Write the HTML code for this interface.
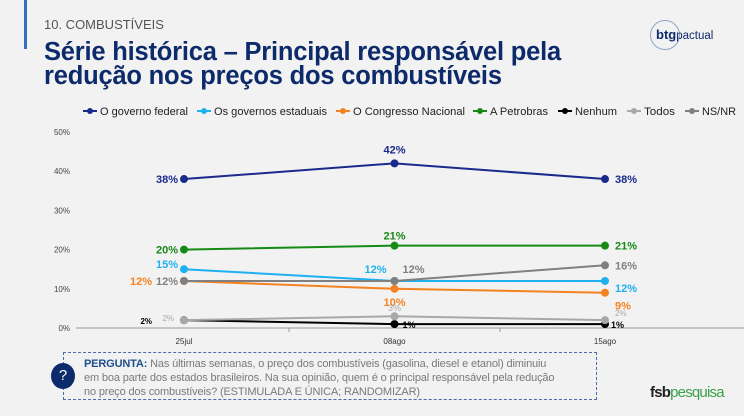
<!DOCTYPE html>
<html><head><meta charset="utf-8"><style>
body{margin:0;width:744px;height:416px;background:#f2f2f2;font-family:"Liberation Sans",sans-serif;overflow:hidden;position:relative}
.abs{position:absolute}
</style></head><body>
<div class="abs" style="left:24px;top:0;width:3px;height:49px;background:#3a6cc0"></div>
<div class="abs" style="left:44px;top:17px;font-size:13px;color:#555">10. COMBUSTÍVEIS</div>
<div class="abs" style="left:44px;top:40px;font-size:25.5px;font-weight:bold;color:#0d2a6b;line-height:24px;letter-spacing:-0.2px">Série histórica – Principal responsável pela<br>redução nos preços dos combustíveis</div>
<div class="abs" style="left:650px;top:20px;width:28px;height:28px;border:1px solid #8fa3c8;border-radius:50%"></div>
<div class="abs" style="left:656px;top:27px;font-size:13px;color:#0d2a6b"><b>btg</b><span style="font-size:11.5px">pactual</span></div>
<svg class="abs" style="left:0;top:0" width="744" height="416">
<g id="legend"></g><g id="axes"></g><g id="series"></g>
</svg>
<div class="abs" style="left:63px;top:352px;width:532px;height:46px;border:1px dashed #4a6aa8"></div>
<div class="abs" style="left:51px;top:363px;width:24px;height:26px;border-radius:50%;background:#0d2a6b;color:#fff;font-size:15px;text-align:center;line-height:26px">?</div>
<div class="abs" style="left:84px;top:357px;width:520px;font-size:11px;line-height:14px;color:#7a7a7a;letter-spacing:-0.15px"><b style="color:#1f4e8c">PERGUNTA:</b> Nas últimas semanas, o preço dos combustíveis (gasolina, diesel e etanol) diminuiu<br>em boa parte dos estados brasileiros. Na sua opinião, quem é o principal responsável pela redução<br>no preço dos combustíveis? (ESTIMULADA E ÚNICA; RANDOMIZAR)</div>
<div class="abs" style="left:650px;top:384px;font-size:15px;letter-spacing:-0.8px"><b style="color:#222">fsb</b><span style="color:#3aa04a">pesquisa</span></div>
<script>
const categories=["25jul","08ago","15ago"];
const seriesNames=["O governo federal","Os governos estaduais","O Congresso Nacional","A Petrobras","Nenhum","Todos","NS/NR"];
const seriesColors=["#1a2a8c","#1fb0f0","#f58220","#158a15","#000000","#a8a8a8","#808080"];
const governoFederal=[38,42,38];
const governosEstaduais=[15,12,12];
const congresso=[12,10,9];
const petrobras=[20,21,21];
const nenhum=[2,1,1];
const todos=[2,3,2];
const nsnr=[12,12,16];
const yTicks=[0,10,20,30,40,50];
const allSeries=[governoFederal,governosEstaduais,congresso,petrobras,nenhum,todos,nsnr];
const NS="http://www.w3.org/2000/svg";
const xPos=i=>184+i*((605-184)/(categories.length-1));
const yPos=v=>328-v*3.92;
function mk(tag,attrs,parent){const e=document.createElementNS(NS,tag);for(const k in attrs)e.setAttribute(k,attrs[k]);parent.appendChild(e);return e;}
const axes=document.getElementById('axes'),ser=document.getElementById('series'),leg=document.getElementById('legend');
const legX=[83,197,336,473,558,627,685];
const legW=[88,113,112,58,42,31,34];
seriesNames.forEach((n,i)=>{
  const lx=legX[i];
  const g=mk('g',{},leg);
  
  
  mk('line',{x1:lx,y1:111,x2:lx+14,y2:111,stroke:seriesColors[i],'stroke-width':2},g);
  mk('circle',{cx:lx+7,cy:111,r:3,fill:seriesColors[i]},g);
  const t=mk('text',{x:lx+17,y:115,'font-size':11,fill:'#222',textLength:legW[i],lengthAdjust:'spacingAndGlyphs'},g);t.textContent=n;
});
const ax=mk('line',{x1:76,y1:328,x2:744,y2:328,stroke:'#999','stroke-width':1},axes);


[289,500].forEach(x=>mk('line',{x1:x,y1:328,x2:x,y2:332,stroke:'#999'},axes));
yTicks.forEach(v=>{const t=mk('text',{x:70,y:yPos(v)+3,'font-size':8,'text-anchor':'end',fill:'#444'},axes);t.textContent=v+'%';
  
  });
categories.forEach((c,i)=>{const t=mk('text',{x:xPos(i),y:344,'font-size':8,'text-anchor':'middle',fill:'#333'},axes);t.textContent=c;
  
  });
const lab=[
 [[-6,4,'end',11],[0,-10,'middle',11],[10,4,'start',11]],
 [[-6,-1,'end',11],[-8,-8,'end',11],[10,11,'start',11]],
 [[-32,4,'end',11],[0,17,'middle',11],[10,17,'start',11]],
 [[-6,4,'end',11],[0,-6,'middle',11],[10,4,'start',11]],
 [[-32,4,'end',8],[8,4,'start',9],[6,4,'start',9]],
 [[-10,1,'end',8],[0,-5,'middle',9],[10,-4,'start',8]],
 [[-6,4,'end',11],[8,-8,'start',11],[10,4,'start',11]]
];
const bold=[1,1,1,1,1,0,1];
allSeries.forEach((vals,s)=>{
  const g=mk('g',{},ser);
  
  
  mk('polyline',{points:vals.map((v,i)=>xPos(i)+','+yPos(v)).join(' '),fill:'none',stroke:seriesColors[s],'stroke-width':2},g);
  vals.forEach((v,i)=>{
    const c=mk('circle',{cx:xPos(i),cy:yPos(v),r:4,fill:seriesColors[s]},g);
    
    
    const L=lab[s][i];
    const t=mk('text',{x:xPos(i)+L[0],y:yPos(v)+L[1],'font-size':L[3],'font-weight':bold[s]?'bold':'normal','text-anchor':L[2],fill:seriesColors[s]},g);
    t.textContent=v+'%';
    
    
  });
});
</script>
</body></html>
